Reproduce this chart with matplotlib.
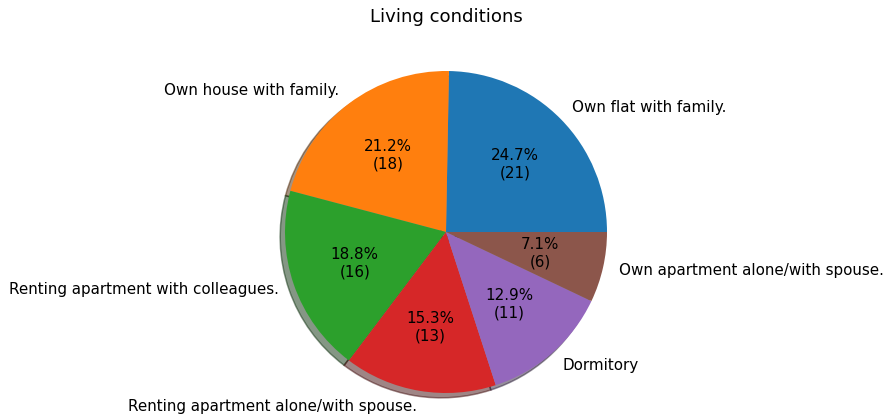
import matplotlib
matplotlib.use("Agg")
import matplotlib.pyplot as plt

labels = ["Own flat with family.", "Own house with family.",
          "Renting apartment with colleagues.", "Renting apartment alone/with spouse.",
          "Dormitory", "Own apartment alone/with spouse."]
counts = [21, 18, 16, 13, 11, 6]
total = sum(counts)


def fmt(pct):
    n = int(round(pct * total / 100.0))
    return "{:.1f}%\n({:d})".format(pct, n)


DPI = 108.5
W, H = 883, 419
fig = plt.figure(figsize=(W / DPI, H / DPI), dpi=DPI)

# pie centre and radius in pixels
cx, cy, r = 446, 232, 161
side = 2.5 * r
ax = fig.add_axes([(cx - side / 2) / W, (H - cy - side / 2) / H, side / W, side / H])
ax.pie(counts, labels=labels, autopct=fmt, shadow=True)
ax.set_xlim(-1.25, 1.25)
ax.set_ylim(-1.25, 1.25)
fig.text(cx / W, 1 - 17 / H, "Living conditions", ha="center", va="center", fontsize=12)
fig.savefig("out.png", dpi=DPI)
